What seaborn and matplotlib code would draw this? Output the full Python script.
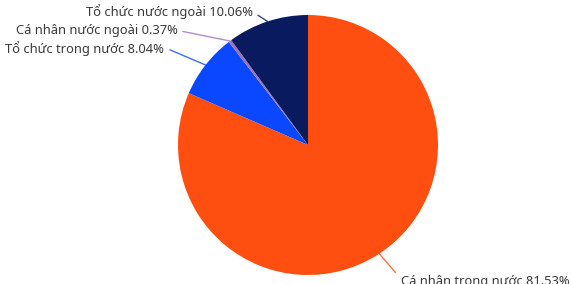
import numpy as np
import matplotlib
matplotlib.use("Agg")
import matplotlib.pyplot as plt
import seaborn as sns

# Data (clockwise from 12 o'clock)
categories = ["Cá nhân trong nước", "Tổ chức trong nước", "Cá nhân nước ngoài", "Tổ chức nước ngoài"]
shares = [81.53, 8.04, 0.37, 10.06]
colors = ["#FF4F10", "#0A48FF", "#A070C0", "#0A1A5E"]

# label layout: leader line end (radius, angle shift in degrees) and text nudge
label_radius = [1.19, 1.29, 1.30, 1.07]
label_shift = [1.2, 3.4, 10.9, 3.0]
text_nudge = [(0.04, -0.066), (-0.05, 0.01), (-0.04, 0.007), (-0.035, 0.03)]

sns.set_theme(style="white")
plt.rcParams['font.family'] = ['Noto Sans', 'DejaVu Sans']

W, H = 572, 284
fig = plt.figure(figsize=(W / 100, H / 100), dpi=100)
cx, cy, r = 308, H - 145, 130
ax = fig.add_axes([(cx - r) / W, (cy - r) / H, 2 * r / W, 2 * r / H])

wedges, _ = ax.pie(shares, colors=colors, startangle=90, counterclock=False,
                   radius=1, wedgeprops=dict(linewidth=0))
ax.set_xlim(-1, 1)
ax.set_ylim(-1, 1)
ax.set_aspect("equal")
ax.axis("off")

for w, name, val, col, lr, sh, (dx, dy) in zip(wedges, categories, shares, colors,
                                               label_radius, label_shift, text_nudge):
    mid = np.radians((w.theta1 + w.theta2) / 2)
    x0, y0 = np.cos(mid), np.sin(mid)
    a2 = mid + np.radians(sh)
    x1, y1 = lr * np.cos(a2), lr * np.sin(a2)
    ax.plot([x0, x1], [y0, y1], color=col, lw=1, clip_on=False, alpha=0.8)
    ax.text(x1 + dx, y1 + dy, f"{name} {val:.2f}%", ha="right" if x1 < 0 else "left",
            va="center", fontsize=9.3, color="#3a3a3a", clip_on=False)

fig.savefig("out.png", dpi=100)
